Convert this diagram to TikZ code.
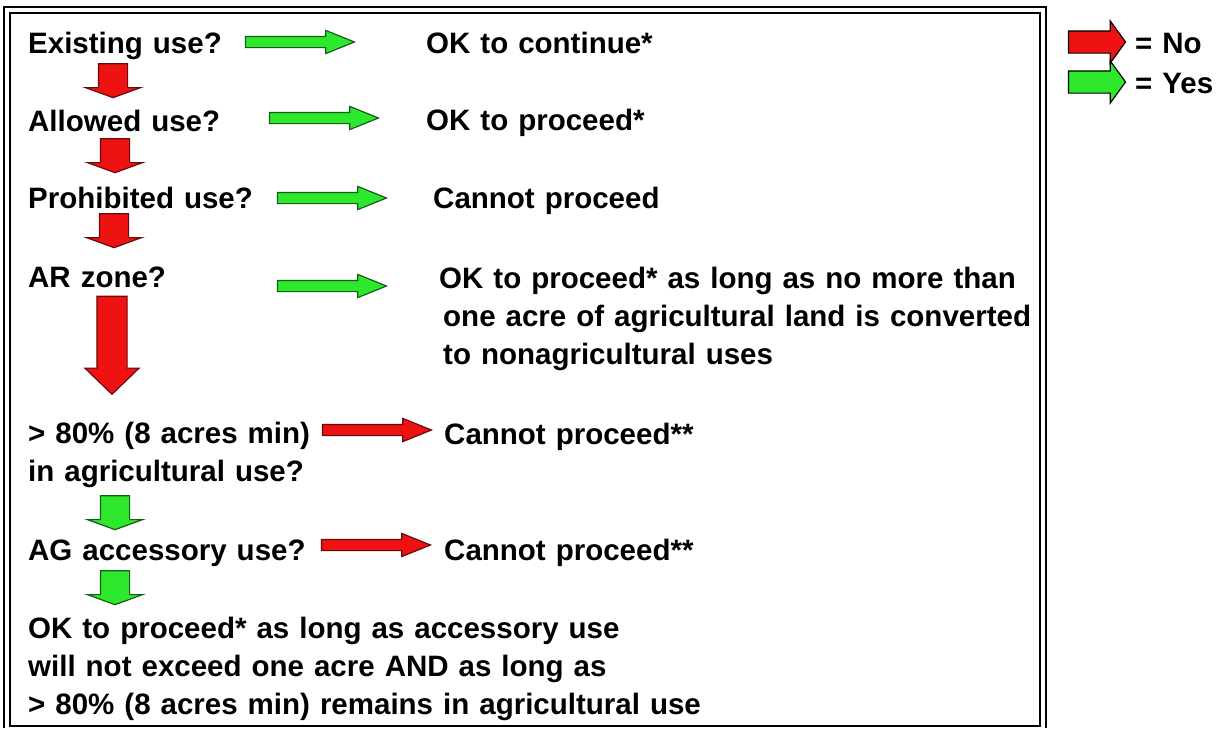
\documentclass[tikz,border=0pt]{standalone}
\usepackage{fontspec}
\setmainfont{Liberation Sans}
\usetikzlibrary{shapes.arrows}
\definecolor{yesgreen}{RGB}{45,232,45}
\definecolor{yesedge}{RGB}{20,95,20}
\definecolor{nored}{RGB}{238,18,18}
\definecolor{noedge}{RGB}{105,10,10}
\newcommand\chartfont{\bfseries\fontsize{29.5}{38}\selectfont\spaceskip 10pt\relax}

\begin{document}
\begin{tikzpicture}[x=1pt,y=-1pt,
  txt/.style={anchor=base west,inner sep=0pt,align=left,font=\chartfont},
  blk/.style={single arrow,inner xsep=0pt,inner ysep=5pt,line width=1.2pt,minimum height=109pt,minimum width=22pt,single arrow head extend=6pt,single arrow tip angle=44},
  yes arrow/.style={blk,fill=yesgreen,draw=yesedge},
  no arrow/.style={blk,fill=nored,draw=noedge},
  down/.style={rotate=-90,inner ysep=14pt,minimum height=34pt,minimum width=54pt,single arrow head extend=13pt,single arrow tip angle=140},
  long down/.style={rotate=-90,inner ysep=14.5pt,minimum height=98pt,minimum width=54pt,single arrow head extend=12pt,single arrow tip angle=92},
  key/.style={inner ysep=10.5pt,minimum height=57pt,minimum width=41pt,single arrow head extend=10pt,single arrow tip angle=108,draw=black}]
  \useasboundingbox (0,0) rectangle (1231,728);

  % double frame
  \draw[line width=1.6pt] (4,728) -- (4,7) -- (1046,7) -- (1046,728);
  \draw[line width=1.6pt] (10,726) rectangle (1040,13);

  % questions (multi-line nodes sit on their last line)
  \node[txt] (q1) at (28,53) {Existing use?};
  \node[txt] (q2) at (28,131) {Allowed use?};
  \node[txt] (q3) at (28,208) {Prohibited use?};
  \node[txt] (q4) at (28,287) {AR zone?};
  \node[txt] (q5) at (28,481) {> 80\% (8 acres min)\\in agricultural use?};
  \node[txt] (q6) at (28,560) {AG accessory use?};
  \node[txt] (end) at (28,714) {OK to proceed* as long as accessory use\\will not exceed one acre AND as long as\\> 80\% (8 acres min) remains in agricultural use};

  % answers
  \node[txt] (a1) at (426,53) {OK to continue*};
  \node[txt] (a2) at (426,130) {OK to proceed*};
  \node[txt] (a3) at (433,208) {Cannot proceed};
  \node[txt] (a4) at (439,364) {OK to proceed* as long as no more than\\\hspace*{4pt}one acre of agricultural land is converted\\\hspace*{4pt}to nonagricultural uses};
  \node[txt] (a5) at (444,444) {Cannot proceed**};
  \node[txt] (a6) at (444,560) {Cannot proceed**};

  % yes / no arrows
  \node[yes arrow] (y1) at (293,42) {};
  \node[yes arrow] (y2) at (317,118) {};
  \node[yes arrow] (y3) at (325,198) {};
  \node[yes arrow] (y4) at (325,286) {};
  \node[no arrow] (n5) at (370,430) {};
  \node[no arrow] (n6) at (369,545) {};

  \node[no arrow,down] (d1) at (113,78) {};
  \node[no arrow,down] (d2) at (115,153) {};
  \node[no arrow,down] (d3) at (114,228) {};
  \node[no arrow,long down] (d4) at (112,338) {};
  \node[yes arrow,down] (d5) at (115,510) {};
  \node[yes arrow,down] (d6) at (115,585) {};

  % legend
  \node[no arrow,key] (kno) at (1093,42) {};
  \node[yes arrow,key] (kyes) at (1093,82) {};
  \node[txt] (lno) at (1135,53) {= No};
  \node[txt] (lyes) at (1135,93) {= Yes};
\end{tikzpicture}
\end{document}
